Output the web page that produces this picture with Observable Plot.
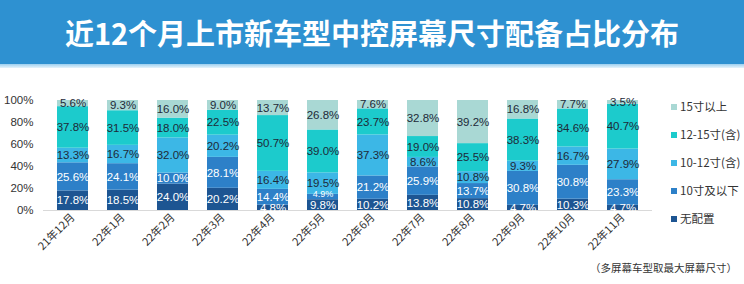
<!DOCTYPE html>
<html><head><meta charset="utf-8">
<script src="https://cdn.jsdelivr.net/npm/d3@7"></script>
<script src="https://cdn.jsdelivr.net/npm/@observablehq/plot@0.6"></script>
<style>
body{margin:0;background:#fff;font-family:"Liberation Sans","Noto Sans CJK SC",sans-serif;}
#wrap{position:relative;width:744px;height:284px;overflow:hidden;background:#fff;}
#banner{position:absolute;left:0;top:0;width:744px;height:64px;background:#2e91d1;color:#fff;font-weight:bold;font-size:29px;font-family:"Noto Sans CJK SC",sans-serif;text-align:center;line-height:64px;z-index:2;}
#strip{position:absolute;left:0;top:64px;width:744px;height:4px;background:linear-gradient(#9ccfef,#e6f4fc);z-index:2;}
#chart{position:absolute;left:0;top:0;z-index:1;}
.lg{position:absolute;left:671px;height:16px;line-height:16px;font-size:11.5px;color:#333;z-index:2;font-family:"Noto Sans CJK SC",sans-serif;white-space:nowrap;}
.lg i{display:inline-block;width:6px;height:6px;margin-right:3px;vertical-align:1px;}
#note{position:absolute;left:590px;top:260px;font-size:10.5px;color:#333;z-index:2;font-family:"Noto Sans CJK SC",sans-serif;white-space:nowrap;}
</style>
</head><body>
<div id="wrap">
  <div id="banner"></div>
  <div id="strip"></div>
  <div id="chart"></div>
  <div id="note"></div>
</div>
<script>
const title = "近12个月上市新车型中控屏幕尺寸配备占比分布";
const note = "（多屏幕车型取最大屏幕尺寸）";
const months = ["21年12月","22年1月","22年2月","22年3月","22年4月","22年5月","22年6月","22年7月","22年8月","22年9月","22年10月","22年11月"];
const series = ["无配置","10寸及以下","10-12寸(含)","12-15寸(含)","15寸以上"];
const colors = ["#1d5592","#2d80c8","#3cb7e6","#1ccbcc","#a9d8d4"];
const noneV   = [17.8,18.5,24.0,20.2,4.8,9.8,10.2,13.8,10.8,4.7,10.3,4.7];
const le10    = [25.6,24.1,10.0,28.1,14.4,4.9,21.2,25.9,13.7,30.8,30.8,23.3];
const s10to12 = [13.3,16.7,32.0,20.2,16.4,19.5,37.3,8.6,10.8,9.3,16.7,27.9];
const s12to15 = [37.8,31.5,18.0,22.5,50.7,39.0,23.7,19.0,25.5,38.3,34.6,40.7];
const gt15    = [5.6,9.3,16.0,9.0,13.7,26.8,7.6,32.8,39.2,16.8,7.7,3.5];
const yTicks = [0,0.2,0.4,0.6,0.8,1];

const vals = [noneV, le10, s10to12, s12to15, gt15];
const rows = months.flatMap((m,i)=>series.map((s,j)=>({month:m, series:s, idx:j, value:vals[j][i]})));
const fmt = d => d.value.toFixed(1) + "%";
// a thin inner segment gets a smaller, slightly raised label so it does not collide with its neighbour
const thin = d => d.value < 5 && d.idx > 0 && d.idx < series.length - 1;

document.getElementById("banner").textContent = title;
document.getElementById("note").textContent = note;

const stackOpts = {x:"month", y:"value", z:"series", order:series, offset:"normalize"};
const chart = Plot.plot({
  width:744, height:284,
  marginTop:100, marginBottom:74, marginLeft:43, marginRight:92,
  style:{fontFamily:"'Liberation Sans','Noto Sans CJK SC',sans-serif", background:"transparent"},
  x:{domain:months, paddingInner:0.39, paddingOuter:0.19, axis:null},
  y:{domain:[0,1], axis:null},
  color:{domain:series, range:colors},
  marks:[
    Plot.barY(rows, Plot.stackY({...stackOpts, fill:"series"})),
    Plot.ruleY([0], {stroke:"#d9d9d9"}),
    Plot.axisY({ticks:yTicks, tickFormat:d=>Math.round(d*100)+"%", tickSize:0, tickPadding:10, fontSize:11.5, fill:"#333", label:null}),
    Plot.axisX({tickRotate:-45, tickSize:0, tickPadding:5, fontSize:11, fill:"#333", label:null, fontFamily:"'Noto Sans CJK SC',sans-serif"}),
    Plot.text(rows, Plot.stackY({...stackOpts, text:d=>d.idx<2 && !thin(d) ? fmt(d) : "", fill:"#ffffff", fontSize:11.5})),
    Plot.text(rows, Plot.stackY({...stackOpts, text:d=>d.idx<2 && thin(d) ? fmt(d) : "", fill:"#ffffff", fontSize:9, dy:-3})),
    Plot.text(rows, Plot.stackY({...stackOpts, text:d=>d.idx>=2 ? fmt(d) : "", fill:"#1e2a38", fontSize:11.5}))
  ]
});
document.getElementById("chart").appendChild(chart);

const wrap = document.getElementById("wrap");
const legendOrder = series.map((s,j)=>j).reverse();
legendOrder.forEach((j,k)=>{
  const d = document.createElement("div");
  d.className = "lg";
  d.style.top = (98 + k*28) + "px";
  d.innerHTML = `<i style="background:${colors[j]}"></i>${series[j]}`;
  wrap.appendChild(d);
});
</script>
</body></html>
